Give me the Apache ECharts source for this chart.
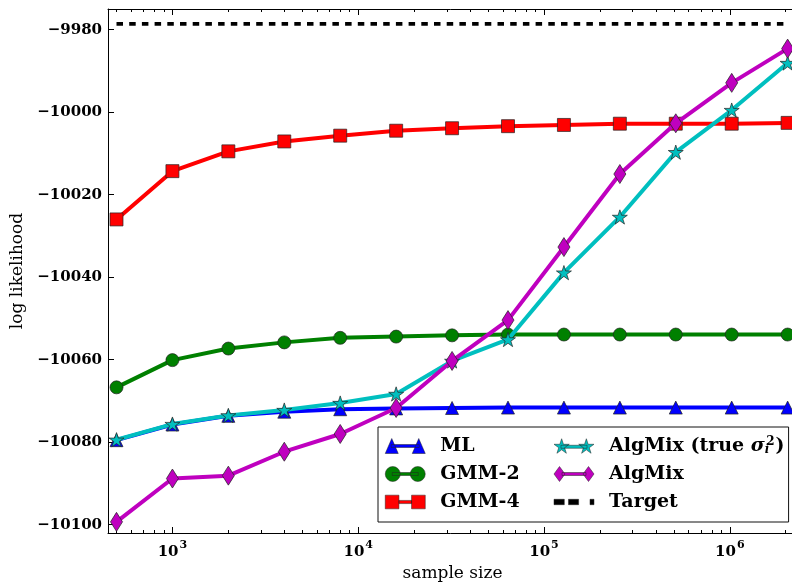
<!DOCTYPE html>
<html>
<head>
<meta charset="utf-8">
<script src="https://cdn.jsdelivr.net/npm/echarts@6/dist/echarts.min.js"></script>
<style>
  html, body { margin: 0; padding: 0; background: #fff; }
  #chart { width: 792px; height: 582px; }
</style>
</head>
<body>
<div id="chart"></div>
<script>
// Sample sizes (x) and log-likelihood values per method (y)
const sampleSizes = [500, 1000, 2000, 4000, 8000, 16000, 32000, 64000, 128000, 256000, 512000, 1024000, 2048000];
const mlValues = [-10079.5, -10075.7, -10073.6, -10072.6, -10072.0, -10071.8, -10071.7, -10071.6, -10071.6, -10071.6, -10071.6, -10071.6, -10071.6];
const gmm2Values = [-10066.7, -10060.1, -10057.3, -10055.8, -10054.7, -10054.4, -10054.1, -10053.9, -10053.9, -10053.9, -10053.9, -10053.9, -10053.9];
const gmm4Values = [-10026.0, -10014.3, -10009.5, -10007.1, -10005.7, -10004.5, -10003.9, -10003.4, -10003.1, -10002.8, -10002.8, -10002.8, -10002.6];
const algMixTrueValues = [-10079.4, -10075.6, -10073.5, -10072.2, -10070.5, -10068.3, -10060.3, -10055.1, -10038.9, -10025.4, -10009.7, -9999.5, -9988.1];
const algMixValues = [-10099.3, -10088.8, -10088.1, -10082.3, -10078.0, -10071.7, -10060.3, -10050.4, -10032.7, -10015.0, -10002.7, -9992.9, -9984.6];
const targetValues = [-9978.6, -9978.6, -9978.6, -9978.6, -9978.6, -9978.6, -9978.6, -9978.6, -9978.6, -9978.6, -9978.6, -9978.6, -9978.6];

// Axis ranges and ticks
const xMin = 450, xMax = 2300000;
const yMin = -10102, yMax = -9975;
const yTicks = [-10100, -10080, -10060, -10040, -10020, -10000, -9980];

const FONT = 'DejaVu Serif';

// Minor log ticks (2..9 x 10^n), positioned on a linear axis in log10 space
const minorTicks = [];
for (let n = 2; n <= 6; n++) {
  for (let k = 2; k <= 9; k++) {
    const v = Math.log10(k * Math.pow(10, n));
    if (v > Math.log10(xMin) && v < Math.log10(xMax)) minorTicks.push(v);
  }
}

function starPath(cx, cy, R, r) {
  let d = '';
  for (let k = 0; k < 10; k++) {
    const a = -Math.PI / 2 + k * Math.PI / 5;
    const rad = k % 2 === 0 ? R : r;
    d += (k === 0 ? 'M' : 'L') + (cx + rad * Math.cos(a)).toFixed(2) + ' ' + (cy + rad * Math.sin(a)).toFixed(2) + ' ';
  }
  return d + 'Z';
}

// Legend handles: a short line with a marker at each end
const legendIcons = {
  ml: 'path://M0 15 L6.5 0 L13 15 Z M6 6 L34 6 L34 9 L6 9 Z M27 15 L33.5 0 L40 15 Z',
  gmm2: 'path://M0 7.5 A7.5 7.5 0 1 1 15 7.5 A7.5 7.5 0 1 1 0 7.5 Z M7 6 L33 6 L33 9 L7 9 Z M25 7.5 A7.5 7.5 0 1 1 40 7.5 A7.5 7.5 0 1 1 25 7.5 Z',
  gmm4: 'path://M1 1 L14 1 L14 14 L1 14 Z M14 6 L26 6 L26 9 L14 9 Z M26 1 L39 1 L39 14 L26 14 Z',
  algTrue: 'path://' + starPath(7.7, 8, 8, 3.06) + ' M7 6.5 L33 6.5 L33 9.5 L7 9.5 Z ' + starPath(32.3, 8, 8, 3.06),
  alg: 'path://M5.5 0 L11 7.5 L5.5 15 L0 7.5 Z M8 6 L32 6 L32 9 L8 9 Z M34.5 0 L40 7.5 L34.5 15 L29 7.5 Z',
  target: 'path://M0 0 L6.7 0 L6.7 3.5 L0 3.5 Z M9.4 0 L16 0 L16 3.5 L9.4 3.5 Z M23.4 0 L26 0 L26 3.5 L23.4 3.5 Z'
};

const NAMES = {
  ml: 'ML', gmm2: 'GMM-2', gmm4: 'GMM-4',
  algTrue: 'AlgMix (true σ_i^2)', alg: 'AlgMix', target: 'Target'
};

const pairs = vals => sampleSizes.map((x, i) => [x, vals[i]]);
const markerEdge = { borderColor: '#222', borderWidth: 0.7 };

function lineSeries(name, vals, color, symbol, size, z, extra) {
  return Object.assign({
    name: name,
    type: 'line',
    xAxisIndex: 0,
    yAxisIndex: 0,
    data: pairs(vals),
    symbol: symbol,
    symbolSize: size,
    symbolKeepAspect: true,
    showAllSymbol: true,
    z: z,
    lineStyle: { color: color, width: 4 },
    itemStyle: Object.assign({ color: color }, markerEdge),
    emphasis: { disabled: true },
    animation: false
  }, extra || {});
}

const labelStyle = { fontFamily: FONT, fontWeight: 'bold', fontSize: 15, color: '#000' };
const LEG = 19;

const chart = echarts.init(document.getElementById('chart'), null, { renderer: 'canvas' });

chart.setOption({
  animation: false,
  backgroundColor: '#fff',
  grid: { left: 108, top: 9, right: -5, bottom: 49, containLabel: false, outerBoundsMode: 'none' },
  xAxis: [
    {
      type: 'log', position: 'bottom', min: xMin, max: xMax, logBase: 10,
      name: 'sample size', nameLocation: 'middle', nameGap: 18,
      nameTextStyle: { fontFamily: FONT, fontSize: 17, color: '#000', padding: [0, 0, 10, 0] },
      axisLine: { onZero: false, lineStyle: { color: '#000', width: 1 } },
      axisTick: { inside: true, length: 6, lineStyle: { color: '#000' } },
      splitLine: { show: false },
      minorTick: { show: false },
      axisLabel: {
        margin: 7,
        formatter: function (v) {
          const e = Math.log10(v);
          if (Math.abs(e - Math.round(e)) > 1e-6) return '';
          return '{b|10}{e|' + Math.round(e) + '}';
        },
        rich: {
          b: Object.assign({}, labelStyle, { lineHeight: 20, verticalAlign: 'bottom' }),
          e: Object.assign({}, labelStyle, { fontSize: 11, lineHeight: 20, verticalAlign: 'top', padding: [0, 0, 0, 1] })
        }
      }
    },
    {
      type: 'log', position: 'top', min: xMin, max: xMax, logBase: 10,
      axisLine: { onZero: false, lineStyle: { color: '#000', width: 1 } },
      axisTick: { inside: true, length: 6, lineStyle: { color: '#000' } },
      axisLabel: { show: false },
      splitLine: { show: false }
    },
    {
      type: 'value', position: 'bottom', min: Math.log10(xMin), max: Math.log10(xMax),
      axisLine: { show: false, onZero: false },
      axisTick: { inside: true, length: 3, customValues: minorTicks, lineStyle: { color: '#000' } },
      axisLabel: { show: false },
      splitLine: { show: false }
    },
    {
      type: 'value', position: 'top', min: Math.log10(xMin), max: Math.log10(xMax),
      axisLine: { show: false, onZero: false },
      axisTick: { inside: true, length: 3, customValues: minorTicks, lineStyle: { color: '#000' } },
      axisLabel: { show: false },
      splitLine: { show: false }
    }
  ],
  yAxis: [
    {
      type: 'value', position: 'left', min: yMin, max: yMax,
      name: 'log likelihood', nameLocation: 'middle', nameGap: 81, nameRotate: 90,
      nameTextStyle: { fontFamily: FONT, fontSize: 17, color: '#000' },
      axisLine: { show: true, onZero: false, lineStyle: { color: '#000', width: 1 } },
      axisTick: { inside: true, length: 6, customValues: yTicks, lineStyle: { color: '#000' } },
      axisLabel: Object.assign({
        margin: 6, customValues: yTicks,
        formatter: v => '\u2212' + Math.abs(v)
      }, labelStyle),
      splitLine: { show: false }
    }
  ],
  legend: {
    orient: 'vertical',
    left: 378, top: 427, height: 76,
    itemWidth: 40, itemHeight: 15, itemGap: 8,
    padding: [9, 4, 10, 7],
    borderColor: '#111', borderWidth: 1, backgroundColor: '#fff',
    selectedMode: false,
    symbolKeepAspect: true,
    itemStyle: { borderWidth: 0.5, borderColor: '#222' },
    textStyle: {
      fontFamily: FONT, fontWeight: 'bold', fontSize: LEG, color: '#000',
      lineHeight: 20, padding: [0, 0, 0, 10],
      rich: {
        c1: { fontFamily: FONT, fontWeight: 'bold', fontSize: LEG, width: 105.5, lineHeight: 20 },
        c2: { fontFamily: FONT, fontWeight: 'bold', fontSize: LEG, width: 150, lineHeight: 20 },
        t: { fontFamily: FONT, fontWeight: 'bold', fontSize: LEG, lineHeight: 20 },
        s: { fontFamily: FONT, fontStyle: 'italic', fontSize: LEG, lineHeight: 20 },
        sb: { fontFamily: FONT, fontStyle: 'italic', fontSize: 12, lineHeight: 20, verticalAlign: 'bottom', width: 1.5 },
        sp: { fontFamily: FONT, fontSize: 12, lineHeight: 20, verticalAlign: 'top', padding: [0, 1, 0, 0] }
      }
    },
    formatter: function (name) {
      if (name === NAMES.algTrue) return '{t|AlgMix (true }{s|σ}{sb|i}{sp|2}{t|)}';
      if (name === NAMES.alg || name === NAMES.target) return '{c2|' + name + '}';
      return '{c1|' + name + '}';
    },
    data: [
      { name: NAMES.ml, icon: legendIcons.ml },
      { name: NAMES.gmm2, icon: legendIcons.gmm2 },
      { name: NAMES.gmm4, icon: legendIcons.gmm4 },
      { name: NAMES.algTrue, icon: legendIcons.algTrue },
      { name: NAMES.alg, icon: legendIcons.alg },
      { name: NAMES.target, icon: legendIcons.target }
    ]
  },
  series: [
    lineSeries(NAMES.ml, mlValues, '#0000ff', 'triangle', 13, 2),
    lineSeries(NAMES.gmm2, gmm2Values, '#008000', 'circle', 13, 3),
    lineSeries(NAMES.gmm4, gmm4Values, '#ff0000', 'rect', 13, 4),
    lineSeries(NAMES.algTrue, algMixTrueValues, '#00bfbf', 'path://' + starPath(10, 10, 10, 3.82), 15, 5),
    lineSeries(NAMES.alg, algMixValues, '#bf00bf', 'diamond', [12, 19], 6, { symbolKeepAspect: false }),
    lineSeries(NAMES.target, targetValues, '#000000', 'none', 0, 7, {
      showSymbol: false,
      lineStyle: { color: '#000', width: 3.8, type: [6.5, 6.2], cap: 'butt' }
    })
  ]
});
</script>
</body>
</html>
